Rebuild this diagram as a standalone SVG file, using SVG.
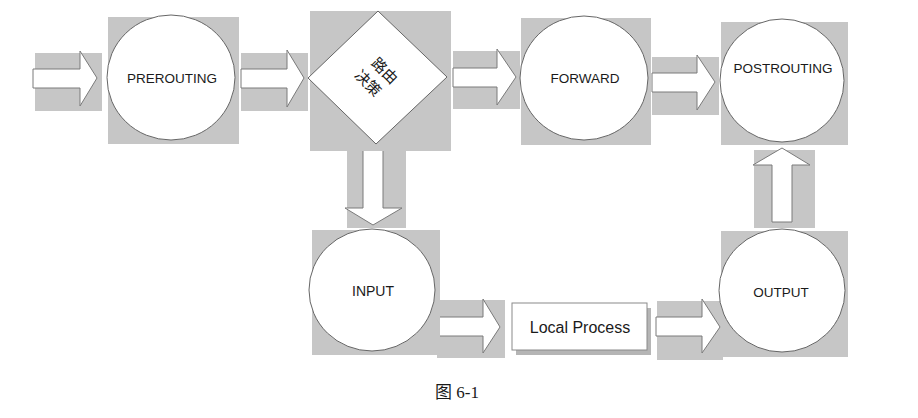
<svg xmlns="http://www.w3.org/2000/svg" width="918" height="418" viewBox="0 0 918 418">
  <style>
    .bg { fill: #c6c6c6; }
    .arrow { fill: #ffffff; stroke: #7a7a7a; stroke-width: 1; stroke-linejoin: miter; }
    .circ { fill: #ffffff; stroke: #666666; stroke-width: 1; }
    .lbl { font-family: "Liberation Sans", Arial, sans-serif; font-size: 13.5px; fill: #1a1a1a; text-anchor: middle; }
    .cjk { font-family: "Noto Sans CJK SC", sans-serif; font-size: 15px; fill: #1a1a1a; text-anchor: middle; }
    .cap { font-family: "Liberation Serif", "Noto Sans CJK SC", serif; font-size: 17px; fill: #1a1a1a; }
  </style>
  <rect width="918" height="418" fill="#ffffff"/>

  <g id="connectors">
    <g id="in-arrow">
      <rect class="bg" x="35" y="53" width="67" height="58"/>
      <polygon class="arrow" points="33,69 80,69 80,51 97,78 80,106 80,88 33,88"/>
    </g>
    <g id="pre-to-route">
      <rect class="bg" x="241" y="53" width="67" height="58"/>
      <polygon class="arrow" points="241,69 287,69 287,50 304,78 287,107 287,88 241,88"/>
    </g>
    <g id="route-to-forward">
      <rect class="bg" x="453" y="51" width="67" height="58"/>
      <polygon class="arrow" points="453,68 497,68 497,49 516,77 497,105 497,87 453,87"/>
    </g>
    <g id="forward-to-post">
      <rect class="bg" x="652" y="57" width="67" height="58"/>
      <polygon class="arrow" points="652,73 697,73 697,55 715,82 697,110 697,92 652,92"/>
    </g>
    <g id="route-to-input">
      <rect class="bg" x="347" y="151" width="59" height="77"/>
      <polygon class="arrow" points="363,149 383,149 383,208 402,208 373,225 345,208 363,208"/>
    </g>
    <g id="input-to-local">
      <rect class="bg" x="437" y="300" width="68" height="58"/>
      <polygon class="arrow" points="437,317 483,317 483,299 500,327 483,353 483,336 437,336"/>
    </g>
    <g id="local-to-output">
      <rect class="bg" x="657" y="301" width="66" height="59"/>
      <polygon class="arrow" points="656,317 702,317 702,299 720,327 702,353 702,336 656,336"/>
    </g>
    <g id="output-to-post">
      <rect class="bg" x="754" y="150" width="61" height="78"/>
      <polygon class="arrow" points="772,222 772,165 753,165 782,148 810,165 792,165 792,222"/>
    </g>
  </g>

  <g id="prerouting">
    <rect class="bg" x="108" y="17" width="131" height="127"/>
    <ellipse class="circ" cx="171" cy="77.5" rx="64" ry="62.5"/>
    <text class="lbl" x="172" y="83">PREROUTING</text>
  </g>

  <g id="routing-decision">
    <rect class="bg" x="310" y="11" width="141" height="140"/>
    <polygon class="circ" points="378,11 447,77 376,144 308,78"/>
    <g transform="translate(377,77) rotate(45)">
      <text class="cjk" x="1" y="-4.5">路由</text>
      <text class="cjk" x="-2" y="16">决策</text>
    </g>
  </g>

  <g id="forward">
    <rect class="bg" x="521" y="18" width="130" height="127"/>
    <ellipse class="circ" cx="584" cy="78" rx="64" ry="62"/>
    <text class="lbl" x="585" y="83">FORWARD</text>
  </g>

  <g id="postrouting">
    <rect class="bg" x="721" y="22" width="127" height="123"/>
    <ellipse class="circ" cx="782" cy="80.5" rx="62" ry="61.5"/>
    <text class="lbl" x="783" y="73">POSTROUTING</text>
  </g>

  <g id="input">
    <rect class="bg" x="312" y="230" width="128" height="125"/>
    <ellipse class="circ" cx="372" cy="290" rx="63" ry="61"/>
    <text class="lbl" x="373" y="296" style="font-size:14px">INPUT</text>
  </g>

  <g id="local-process">
    <rect x="516" y="308" width="135" height="47" fill="#b5b5b5"/>
    <rect x="512" y="303" width="135" height="47" fill="#ffffff" stroke="#8a8a8a" stroke-width="1"/>
    <text class="lbl" x="580" y="333" style="font-size:16px">Local Process</text>
  </g>

  <g id="output">
    <rect class="bg" x="721" y="231" width="127" height="126"/>
    <ellipse class="circ" cx="782" cy="290.5" rx="63" ry="61.5"/>
    <text class="lbl" x="781" y="297">OUTPUT</text>
  </g>

  <text class="cap" x="435" y="398">图 6-1</text>
</svg>
